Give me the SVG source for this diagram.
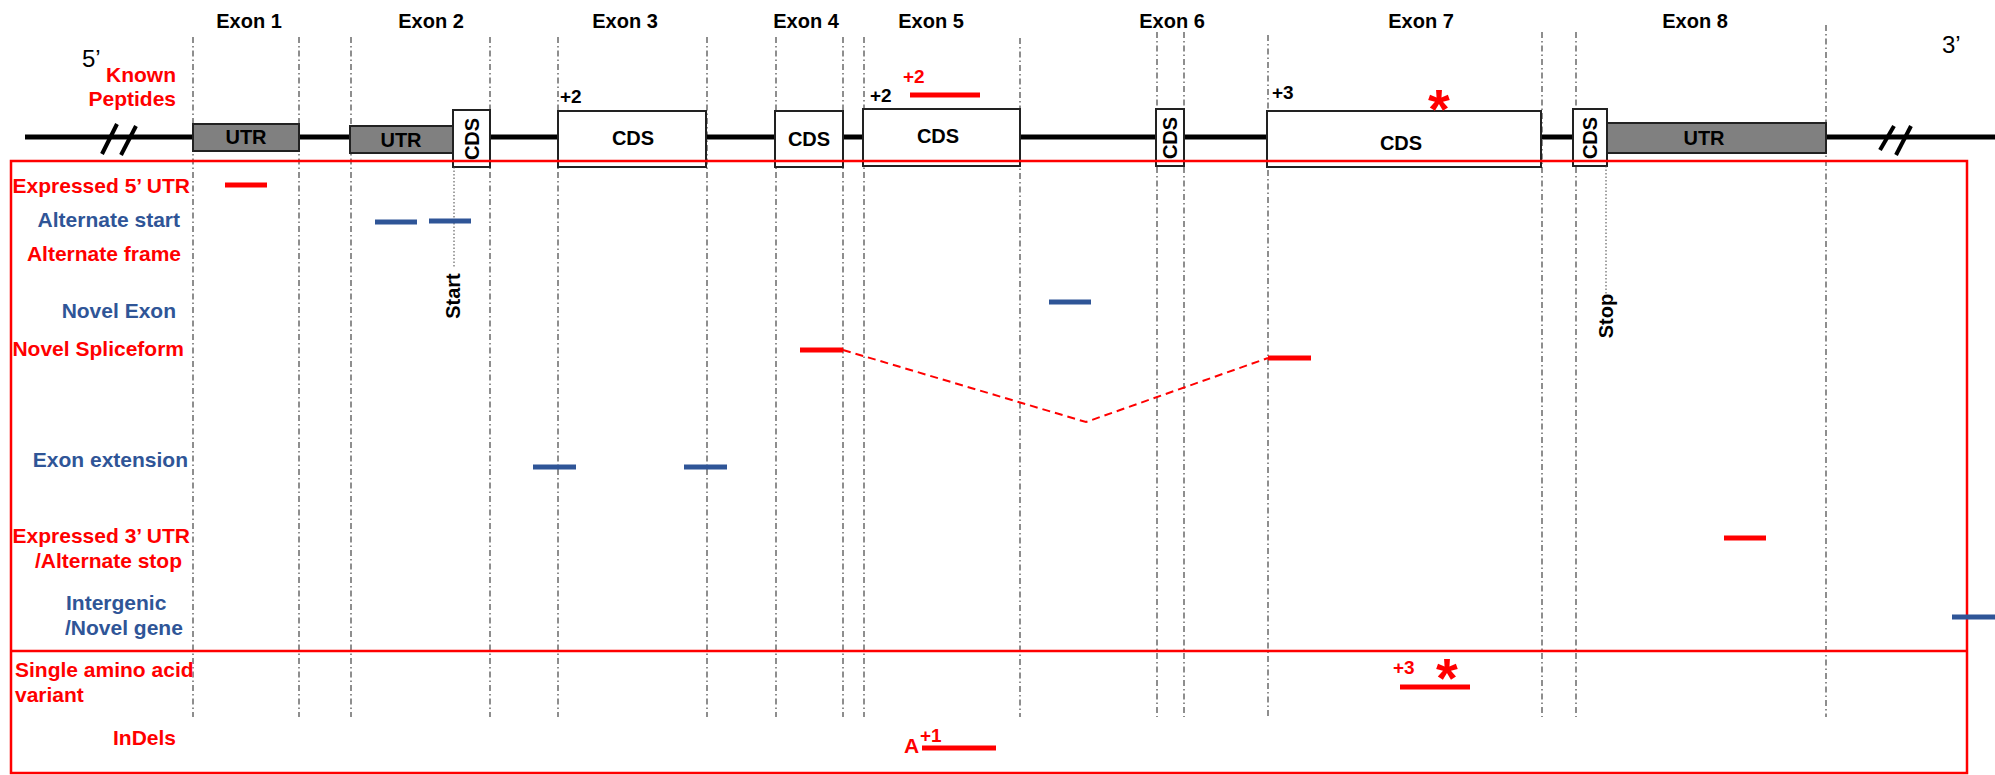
<svg xmlns="http://www.w3.org/2000/svg" width="1995" height="775" viewBox="0 0 1995 775">
<style>
text{font-family:"Liberation Sans",Arial,sans-serif;font-weight:bold;font-size:20px}
.k{fill:#000}
.r{fill:#FF0000}
.b{fill:#2F5597}
.lb{font-size:21px}
.guide{stroke:#444;stroke-width:1.2;stroke-dasharray:6,3,1.5,3;fill:none}
.dot{stroke:#444;stroke-width:1;stroke-dasharray:1.5,2;fill:none}
.cds{fill:#fff;stroke:#222;stroke-width:2}
.utr{fill:#808080;stroke:#222;stroke-width:2}
.rb{stroke:#FF0000;stroke-width:5}
.bb{stroke:#2F5597;stroke-width:5}
.sm{font-size:19px}
.ast{font-size:56px}
.n{font-weight:normal;font-size:24px}
</style>
<rect width="1995" height="775" fill="#fff"/>
<g id="guides">
<line class="guide" x1="193" y1="37" x2="193" y2="717"/>
<line class="guide" x1="299" y1="37" x2="299" y2="717"/>
<line class="guide" x1="351" y1="37" x2="351" y2="717"/>
<line class="guide" x1="490" y1="37" x2="490" y2="717"/>
<line class="guide" x1="558" y1="37" x2="558" y2="717"/>
<line class="guide" x1="707" y1="37" x2="707" y2="717"/>
<line class="guide" x1="776" y1="37" x2="776" y2="717"/>
<line class="guide" x1="843" y1="37" x2="843" y2="717"/>
<line class="guide" x1="864" y1="37" x2="864" y2="717"/>
<line class="guide" x1="1020" y1="38" x2="1020" y2="717"/>
<line class="guide" x1="1157" y1="32" x2="1157" y2="717"/>
<line class="guide" x1="1184" y1="32" x2="1184" y2="717"/>
<line class="guide" x1="1268" y1="35" x2="1268" y2="717"/>
<line class="guide" x1="1542" y1="32" x2="1542" y2="717"/>
<line class="guide" x1="1576" y1="32" x2="1576" y2="717"/>
<line class="guide" x1="1826" y1="25" x2="1826" y2="717"/>
</g>
<g id="gene-line">
<line x1="25" y1="137" x2="1995" y2="137" stroke="#000" stroke-width="5"/>
<line x1="102" y1="154" x2="117" y2="124" stroke="#000" stroke-width="4"/>
<line x1="121" y1="155" x2="136" y2="126" stroke="#000" stroke-width="4"/>
<line x1="1880" y1="150" x2="1894" y2="126" stroke="#000" stroke-width="4"/>
<line x1="1896" y1="155" x2="1911" y2="126" stroke="#000" stroke-width="4"/>
<text class="n" x="82" y="67">5’</text>
<text class="n" x="1942" y="53">3’</text>
</g>
<g id="exon1">
<text class="k" x="249" y="28" text-anchor="middle">Exon 1</text>
<rect class="utr" x="193" y="124" width="106" height="27"/>
<text class="k" x="246" y="144" text-anchor="middle">UTR</text>
</g>
<g id="exon2">
<text class="k" x="431" y="28" text-anchor="middle">Exon 2</text>
<rect class="utr" x="350" y="126" width="103" height="27"/>
<text class="k" x="401" y="147" text-anchor="middle">UTR</text>
<rect class="cds" x="453" y="110" width="37" height="57"/>
<text class="k" transform="translate(479,139) rotate(-90)" text-anchor="middle">CDS</text>
<line class="dot" x1="454" y1="167" x2="454" y2="268"/>
<text class="k" transform="translate(460,296) rotate(-90)" text-anchor="middle">Start</text>
</g>
<g id="exon3">
<text class="k" x="625" y="28" text-anchor="middle">Exon 3</text>
<rect class="cds" x="558" y="111" width="148" height="56"/>
<text class="k" x="633" y="145" text-anchor="middle">CDS</text>
<text class="k sm" x="560" y="103">+2</text>
</g>
<g id="exon4">
<text class="k" x="806" y="28" text-anchor="middle">Exon 4</text>
<rect class="cds" x="775" y="111" width="68" height="56"/>
<text class="k" x="809" y="146" text-anchor="middle">CDS</text>
</g>
<g id="exon5">
<text class="k" x="931" y="28" text-anchor="middle">Exon 5</text>
<rect class="cds" x="863" y="109" width="157" height="57"/>
<text class="k" x="938" y="143" text-anchor="middle">CDS</text>
<text class="k sm" x="870" y="102">+2</text>
<text class="r sm" x="903" y="83">+2</text>
<line class="rb" x1="910" y1="95" x2="980" y2="95"/>
</g>
<g id="exon6">
<text class="k" x="1172" y="28" text-anchor="middle">Exon 6</text>
<rect class="cds" x="1156" y="109" width="28" height="57"/>
<text class="k" transform="translate(1177,138) rotate(-90)" text-anchor="middle">CDS</text>
</g>
<g id="exon7">
<text class="k" x="1421" y="28" text-anchor="middle">Exon 7</text>
<rect class="cds" x="1267" y="111" width="274" height="56"/>
<text class="k" x="1401" y="150" text-anchor="middle">CDS</text>
<text class="k sm" x="1272" y="99">+3</text>
<text class="r ast" x="1439" y="128" text-anchor="middle">*</text>
</g>
<g id="exon8">
<text class="k" x="1695" y="28" text-anchor="middle">Exon 8</text>
<rect class="utr" x="1607" y="123" width="219" height="30"/>
<text class="k" x="1704" y="145" text-anchor="middle">UTR</text>
<rect class="cds" x="1573" y="109" width="34" height="57"/>
<text class="k" transform="translate(1597,138) rotate(-90)" text-anchor="middle">CDS</text>
<line class="dot" x1="1606" y1="166" x2="1606" y2="295"/>
<text class="k" transform="translate(1613,316) rotate(-90)" text-anchor="middle">Stop</text>
</g>
<g id="frames">
<rect x="11" y="161" width="1956" height="612" fill="none" stroke="#FF0000" stroke-width="2.5"/>
<line x1="11" y1="651" x2="1967" y2="651" stroke="#FF0000" stroke-width="2.5"/>
</g>
<g id="labels">
<text class="r lb" x="176" y="82" text-anchor="end">Known</text>
<text class="r lb" x="176" y="106" text-anchor="end">Peptides</text>
<text class="r lb" x="190" y="193" text-anchor="end">Expressed 5’ UTR</text>
<text class="b lb" x="180" y="227" text-anchor="end">Alternate start</text>
<text class="r lb" x="181" y="261" text-anchor="end">Alternate frame</text>
<text class="b lb" x="176" y="318" text-anchor="end">Novel Exon</text>
<text class="r lb" x="184" y="356" text-anchor="end">Novel Spliceform</text>
<text class="b lb" x="188" y="467" text-anchor="end">Exon extension</text>
<text class="r lb" x="190" y="543" text-anchor="end">Expressed 3’ UTR</text>
<text class="r lb" x="182" y="568" text-anchor="end">/Alternate stop</text>
<text class="b lb" x="66" y="610">Intergenic</text>
<text class="b lb" x="65" y="635">/Novel gene</text>
<text class="r lb" x="15" y="677">Single amino acid</text>
<text class="r lb" x="15" y="702">variant</text>
<text class="r lb" x="176" y="745" text-anchor="end">InDels</text>
</g>
<g id="peptides">
<line class="rb" x1="225" y1="185" x2="267" y2="185"/>
<line class="bb" x1="375" y1="222" x2="417" y2="222"/>
<line class="bb" x1="429" y1="221" x2="471" y2="221"/>
<line class="bb" x1="1049" y1="302" x2="1091" y2="302"/>
<line class="rb" x1="800" y1="350" x2="843" y2="350"/>
<line class="rb" x1="1268" y1="358" x2="1311" y2="358"/>
<line class="bb" x1="533" y1="467" x2="576" y2="467"/>
<line class="bb" x1="684" y1="467" x2="727" y2="467"/>
<line class="rb" x1="1724" y1="538" x2="1766" y2="538"/>
<line class="bb" x1="1952" y1="617" x2="1995" y2="617"/>
<line class="rb" x1="1400" y1="687" x2="1470" y2="687"/>
<text class="r sm" x="1393" y="674">+3</text>
<text class="r ast" x="1447" y="697" text-anchor="middle">*</text>
<text class="r lb" x="904" y="753">A</text>
<text class="r sm" x="920" y="742">+1</text>
<line class="rb" x1="922" y1="748" x2="996" y2="748"/>
</g>
<g id="connectors">
<polyline points="843,350 1086,422 1268,358" fill="none" stroke="#FF0000" stroke-width="2" stroke-dasharray="8,5"/>
</g>
</svg>
